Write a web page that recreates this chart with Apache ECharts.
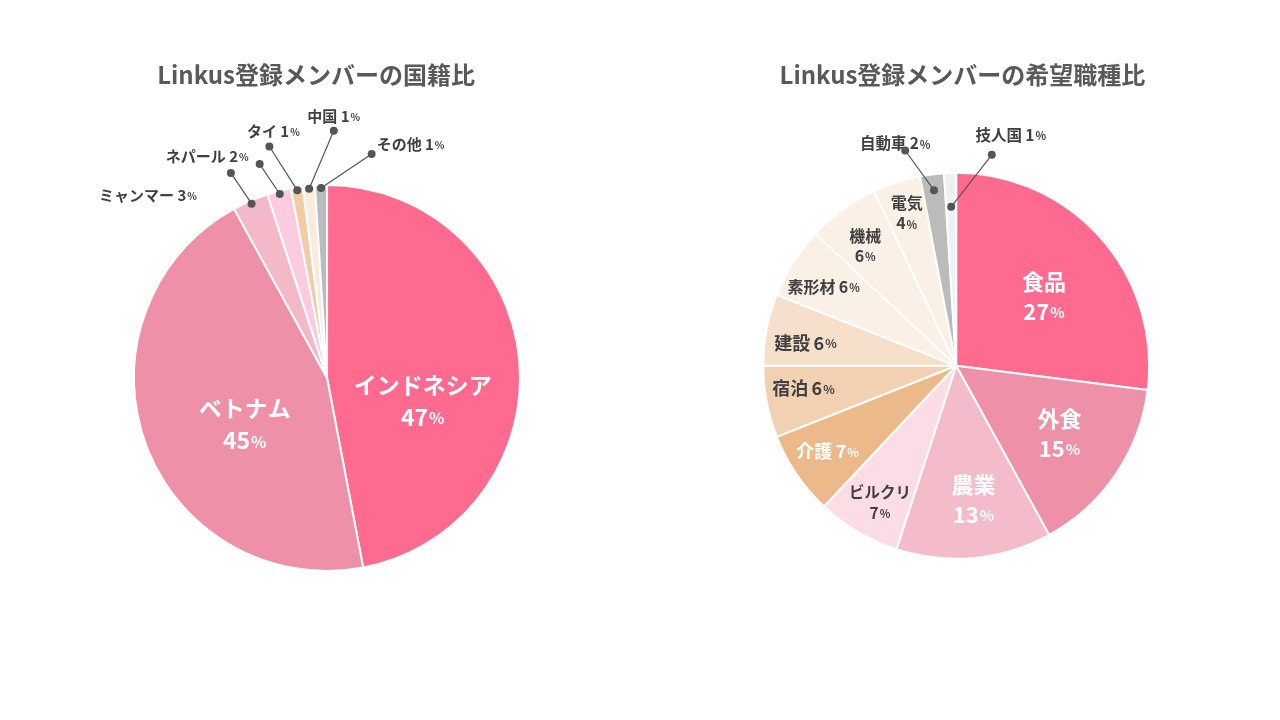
<!DOCTYPE html>
<html>
<head>
<meta charset="utf-8">
<script src="https://cdn.jsdelivr.net/npm/echarts@6/dist/echarts.min.js"></script>
<style>
html,body{margin:0;padding:0;background:#fff;}
#c{width:1280px;height:720px;}
</style>
</head>
<body>
<div id="c"></div>
<script>
// ---- data ----
const natTitle = 'Linkus登録メンバーの国籍比';
const natNames = ['インドネシア','ベトナム','ミャンマー','ネパール','タイ','中国','その他'];
const natValues = [47,45,3,2,1,1,1];
const jobTitle = 'Linkus登録メンバーの希望職種比';
const jobNames = ['食品','外食','農業','ビルクリ','介護','宿泊','建設','素形材','機械','電気','自動車','技人国'];
const jobValues = [27,15,13,7,7,6,6,6,6,4,2,1];

// ---- styles ----
const natColors = ['#FF6A8E','#EE90A8','#F4B9C9','#FBCCDF','#F2CBA6','#FBEBDF','#BBBBBB'];
const jobColors = ['#FF6A8E','#EE90A8','#F4BCCB','#FCDDE6','#ECB98A','#F2D1B3','#F6DFCB','#FAF0E6','#FAF0E6','#FAF0E6','#BBBBBB','#EEF0F2'];
const W_ = '#FFFFFF', D_ = '#404040';
const natStyles = [
  {type:'in', r:0.51, da:18.9, fs:23, lh:32, lines:2, color:W_},
  {type:'in', r:0.49, da:-9.7, fs:23, lh:32, lines:2, color:W_},
  {type:'out', inset:3, ang:-34, len:37, dx:-34, dy:22, align:'right', fs:15},
  {type:'out', inset:3, ang:-34, len:36, dx:-11, dy:-8, align:'right', fs:15},
  {type:'out', inset:3, ang:-32.5, len:52, dx:4, dy:-15, align:'center', fs:15},
  {type:'out', inset:3, ang:23, len:63, dx:0, dy:-15, align:'center', fs:15},
  {type:'out', inset:3, ang:56, len:61, dx:5, dy:-10, align:'left', fs:15}
];
const jobStyles = [
  {type:'in', r:0.58, da:3, fs:22, lh:30, lines:2, color:W_},
  {type:'in', r:0.64, da:-1, fs:22, lh:30, lines:2, color:W_},
  {type:'in', r:0.70, da:-2, fs:22, lh:30, lines:2, color:W_},
  {type:'in', r:0.81, da:-1.4, fs:15.5, lh:21, lines:2, color:D_},
  {type:'in', r:0.80, da:0.6, fs:18, lh:22, lines:1, color:W_},
  {type:'in', r:0.80, da:2.3, fs:18, lh:22, lines:1, color:D_},
  {type:'in', r:0.79, da:-2.1, fs:18, lh:22, lines:1, color:D_},
  {type:'in', r:0.80, da:-1.5, fs:16, lh:20, lines:1, color:D_},
  {type:'in', r:0.78, da:-1.2, fs:16, lh:20, lines:2, color:D_},
  {type:'in', r:0.83, da:0, fs:16, lh:20, lines:2, color:D_},
  {type:'out', inset:16, ang:-36, len:49, dx:-10, dy:-7, align:'center', fs:15.5},
  {type:'out', inset:34, ang:38, len:66, dx:19, dy:-20, align:'center', fs:15.5}
];
const FONT = '"Noto Sans CJK JP","Noto Sans",sans-serif';
const R = 193;
const natCenter = [0.2555, 0.525];
const jobCenter = [0.747, 0.508];

const chart = echarts.init(document.getElementById('c'));
const W = chart.getWidth(), H = chart.getHeight();
const dots = {};

function midAngles(values){
  const total = values.reduce((a,b)=>a+b,0);
  let acc = 0;
  return values.map(v=>{const m=(acc+v/2)/total*360; acc+=v; return m;});
}
function polar(c, r, deg){
  const a = deg*Math.PI/180;
  return [c[0]+r*Math.sin(a), c[1]-r*Math.cos(a)];
}
function makeLayout(sIdx, values, styles, cp){
  const mids = midAngles(values);
  return function(params){
    const i = params.dataIndex, st = styles[i];
    const c = [W*cp[0], H*cp[1]];
    if(st.type==='in'){
      const p = polar(c, R*st.r, mids[i]+st.da);
      return {x:p[0], y:p[1], align:'center', verticalAlign:'middle'};
    }
    const p0 = polar(c, R-st.inset, mids[i]);
    const a = st.ang*Math.PI/180;
    const p1 = [p0[0]+st.len*Math.sin(a), p0[1]-st.len*Math.cos(a)];
    dots[sIdx+'-'+i] = [p0,p1];
    return {x:p1[0]+st.dx, y:p1[1]+st.dy, align:st.align, verticalAlign:'middle'};
  };
}
function buildData(names, values, colors, styles){
  return names.map((n,i)=>{
    const st = styles[i];
    const col = st.type==='in' ? st.color : D_;
    const sep = st.lines===2 ? '\n' : ' ';
    const lh = st.lh || st.fs*1.3;
    return {
      name:n, value:values[i],
      itemStyle:{color:colors[i]},
      label:{
        show:true,
        position: st.type==='in' ? 'inside' : 'outside',
        formatter: '{n|'+n+'}'+sep+'{v|'+values[i]+'}{p|%}',
        rich:{
          n:{fontSize:st.fs, fontWeight:'bold', color:col, fontFamily:FONT, lineHeight:lh},
          v:{fontSize:st.fs, fontWeight:'bold', color:col, fontFamily:FONT, lineHeight:lh},
          p:{fontSize:Math.round(st.fs*0.68), fontWeight:'bold', color:col, fontFamily:FONT, lineHeight:lh, padding:[2,0,0,1]}
        }
      },
      labelLine:{show:false}
    };
  });
}
function pieSeries(sIdx, names, values, colors, styles, cp){
  return {
    type:'pie',
    radius:[0,R],
    center:[(cp[0]*100)+'%', (cp[1]*100)+'%'],
    startAngle:90,
    clockwise:true,
    avoidLabelOverlap:false,
    silent:true,
    itemStyle:{borderColor:'#FFFFFF', borderWidth:2},
    labelLayout: makeLayout(sIdx, values, styles, cp),
    data: buildData(names, values, colors, styles)
  };
}

const option = {
  animation:false,
  backgroundColor:'#FFFFFF',
  title:[
    {text:natTitle, left:'24.3%', top:58, textAlign:'center',
     textStyle:{fontSize:24, fontWeight:'bold', color:'#595959', fontFamily:FONT}},
    {text:jobTitle, left:'74.8%', top:58, textAlign:'center',
     textStyle:{fontSize:24, fontWeight:'bold', color:'#595959', fontFamily:FONT}}
  ],
  series:[
    pieSeries(0, natNames, natValues, natColors, natStyles, natCenter),
    pieSeries(1, jobNames, jobValues, jobColors, jobStyles, jobCenter)
  ]
};
chart.setOption(option);

const els = [];
Object.keys(dots).forEach(k=>{
  const pts = dots[k];
  els.push({type:'line', shape:{x1:pts[0][0], y1:pts[0][1], x2:pts[1][0], y2:pts[1][1]},
            style:{stroke:'#555555', lineWidth:1.2}, z:100, silent:true});
  pts.forEach(p=>{
    els.push({type:'circle', shape:{cx:p[0], cy:p[1], r:4}, style:{fill:'#555555'}, z:101, silent:true});
  });
});
chart.setOption({graphic:{elements:els}});
</script>
</body>
</html>
